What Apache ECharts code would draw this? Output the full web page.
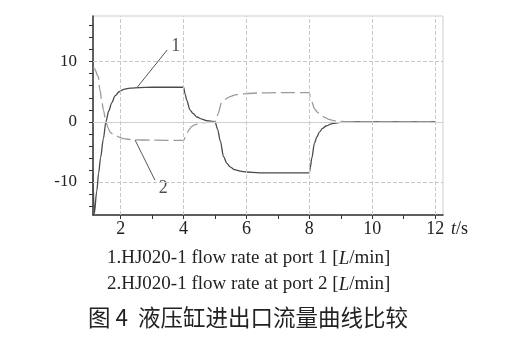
<!DOCTYPE html>
<html><head><meta charset="utf-8">
<script src="https://cdn.jsdelivr.net/npm/echarts@6/dist/echarts.min.js"></script>
<style>html,body{margin:0;padding:0;background:#fff}#c{width:516px;height:360px}</style>
</head><body><div id="c"></div>
<script>
// ---- data ----
const t1 = [1.12,1.16,1.24,1.3,1.36,1.45,1.53,1.62,1.72,1.82,1.95,2.1,2.3,2.6,3.0,4.0,4.05,4.1,4.2,4.3,4.42,4.58,4.73,4.9,5.0,5.08,5.17,5.27,5.38,5.48,5.62,5.8,6.0,6.4,7.0,8.0,8.03,8.08,8.16,8.24,8.32,8.42,8.53,8.7,8.85,9.0,9.2,10,11,12];
const v1 = [-8.6,-15.3,-11.5,-8.5,-6.0,-2.8,0,1.8,3.2,4.3,5.0,5.4,5.6,5.7,5.75,5.75,4.6,3.6,2.0,1.4,0.8,0.45,0.2,0.08,0.02,-1.2,-3.2,-5.8,-6.9,-7.5,-7.95,-8.2,-8.35,-8.5,-8.5,-8.5,-7.6,-6.0,-3.6,-2.5,-1.7,-1.1,-0.7,-0.35,-0.2,-0.1,0,0,0,0];
const t2 = [1.12,1.16,1.29,1.34,1.4,1.45,1.53,1.6,1.66,1.74,1.82,1.95,2.08,2.4,3.0,4.0,4.05,4.1,4.18,4.25,4.35,4.5,4.65,4.8,5.0,5.05,5.1,5.2,5.3,5.48,5.62,5.8,6.0,6.4,7.0,8.0,8.03,8.08,8.16,8.25,8.37,8.5,8.62,8.8,9.0,9.3,10,11,12];
const v2 = [9.0,8.9,7.5,5.3,3.4,2.0,0,-1.0,-1.7,-2.0,-2.2,-2.55,-2.8,-3.0,-3.05,-3.1,-2.6,-1.9,-1.3,-0.8,-0.5,-0.3,-0.15,-0.05,0,0.6,1.4,3.1,3.7,4.2,4.45,4.6,4.7,4.8,4.85,4.85,4.2,3.3,2.2,1.6,1.1,0.7,0.4,0.15,0.05,0,0,0,0];
const xLabels = [2,4,6,8,10,12];
const xTicks = [2,3,4,5,6,7,8,9,10,11,12];
const yLabels = [-10,0,10];
const yTicks = [-14,-12,-10,-8,-6,-4,-2,0,2,4,6,8,10,12,14,16];
const legendLines = ['1.HJ020-1 flow rate at port 1 [','2.HJ020-1 flow rate at port 2 ['];
const caption = '图 4  液压缸进出口流量曲线比较';
// annotation leader lines (data coords)
const ann1 = [[2.52,5.7],[3.48,11.95]];
const ann2 = [[2.46,-3.05],[3.09,-9.7]];
const annLabels = [['1',3.75,12.5],['2',3.35,-11.1]];

const chart = echarts.init(document.getElementById('c'), null, {renderer:'canvas'});
const serif = '"Liberation Serif","Times New Roman",serif';
const pairs = (t,v)=>t.map((x,i)=>[x,v[i]]);
const gridLine = (vals, axis, type) => vals.map(v=>({[axis]:v, lineStyle:{type:type, color: type==='solid'?'#cfcfcf':'#c8c8c8', width:1}}));
const richSerif = (sz)=>({i:{fontFamily:serif, fontStyle:'italic', fontSize:sz, fill:'#222'}, n:{fontFamily:serif, fontSize:sz, fill:'#222'}});

chart.setOption({
  animation:false,
  grid:{left:93, top:16, right:73, bottom:145, show:true, borderColor:'#cfcfcf', borderWidth:1},
  xAxis:{type:'value', min:1.12, max:12.25,
    axisLine:{show:true, onZero:false, lineStyle:{color:'#333', width:1.5}},
    axisTick:{show:true, customValues:xTicks, length:4, lineStyle:{color:'#333'}},
    axisLabel:{customValues:xLabels, margin:5, fontFamily:serif, fontSize:18, color:'#222'},
    splitLine:{show:false}},
  yAxis:{type:'value', min:-15.5, max:17.6,
    axisLine:{show:true, onZero:false, lineStyle:{color:'#333', width:1.5}},
    axisTick:{show:true, customValues:yTicks, length:4, lineStyle:{color:'#333'}},
    axisLabel:{customValues:yLabels, margin:16, fontFamily:serif, fontSize:17, color:'#222'},
    splitLine:{show:false}},
  series:[
    {type:'line', data:[], silent:true,
      markLine:{silent:true, symbol:'none', label:{show:false},
        data: gridLine(xLabels,'xAxis','dashed').concat(gridLine([-10,10],'yAxis','dashed')).concat(gridLine([0],'yAxis','solid'))}},
    {name:'1', type:'line', data:pairs(t1,v1), showSymbol:false, smooth:0.3, smoothMonotone:'x',
      lineStyle:{color:'#4a4a4a', width:1.3},
      markLine:{silent:true, symbol:'none', label:{show:false}, lineStyle:{color:'#555', width:1, type:'solid'},
        data:[[{coord:ann1[0]},{coord:ann1[1]}]]}},
    {name:'2', type:'line', data:pairs(t2,v2), showSymbol:false, smooth:0.3, smoothMonotone:'x',
      lineStyle:{color:'#9a9a9a', width:1.3, type:[14,5]},
      markLine:{silent:true, symbol:'none', label:{show:false}, lineStyle:{color:'#555', width:1, type:'solid'},
        data:[[{coord:ann2[0]},{coord:ann2[1]}]]}},
    {type:'scatter', symbolSize:0, silent:true, data:annLabels.map(a=>({value:[a[1],a[2]], name:a[0]})),
      label:{show:true, position:'inside', formatter:p=>p.name, fontFamily:serif, fontSize:18, color:'#222'}}
  ],
  graphic:[
    {type:'text', left:451, top:220, style:{text:'{i|t}{n|/s}', rich:richSerif(18)}},
    {type:'text', left:107, top:249, style:{text:'{n|'+legendLines[0]+'}{i|L}{n|/min]}', rich:richSerif(19)}},
    {type:'text', left:107, top:275, style:{text:'{n|'+legendLines[1]+'}{i|L}{n|/min]}', rich:richSerif(19)}},
    {type:'text', left:88, top:306, style:{text:caption, font:'22.5px "Noto Sans CJK SC"', fill:'#222'}}
  ]
});
</script></body></html>
